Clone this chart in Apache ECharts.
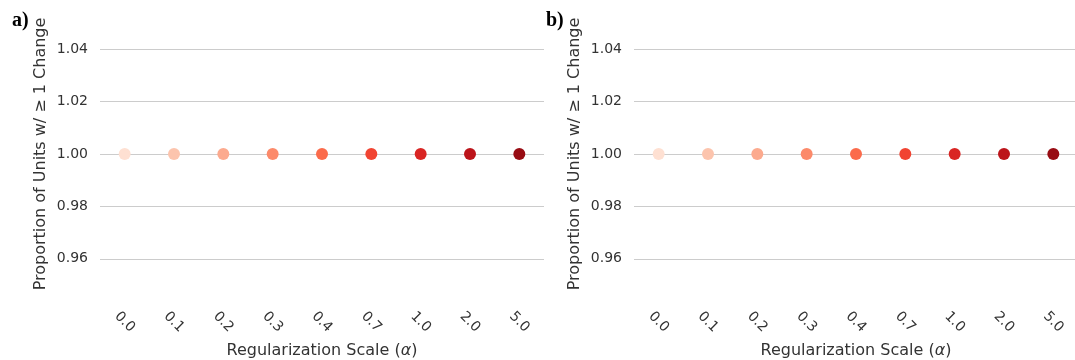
<!DOCTYPE html>
<html lang="en">

<head>
    <meta charset="UTF-8">
    <title>Regularization scale</title>
    <script src="https://cdn.jsdelivr.net/npm/echarts@6/dist/echarts.min.js"></script>
    <style>
        html, body { margin: 0; padding: 0; background: #fff; }
    </style>
</head>

<body>
    <div id="main" style="width: 1075px; height: 360px;"></div>
    <script>
        // data
        var alphas = ['0.0', '0.1', '0.2', '0.3', '0.4', '0.7', '1.0', '2.0', '5.0'];
        var propA = [1.0, 1.0, 1.0, 1.0, 1.0, 1.0, 1.0, 1.0, 1.0];
        var propB = [1.0, 1.0, 1.0, 1.0, 1.0, 1.0, 1.0, 1.0, 1.0];
        var panelNames = ['a)', 'b)'];

        var reds = ['#fee0d2', '#fcc4ad', '#fcaa8e', '#fc8a6a', '#fb6b4b', '#f14432', '#d92523', '#bc141a', '#980c13'];

        var chart = echarts.init(document.getElementById('main'));
        var font = 'DejaVu Sans';

        function xAxis(i) {
            return {
                type: 'category',
                gridIndex: i,
                data: alphas,
                boundaryGap: true,
                axisLine: { show: false },
                axisTick: { show: false },
                splitLine: { show: false },
                axisLabel: {
                    rotate: -45,
                    align: 'center',
                    verticalAlign: 'middle',
                    margin: 37,
                    color: '#333',
                    fontSize: 14,
                    fontFamily: font
                },
                name: 'Regularization Scale ({a|\u03b1})',
                nameLocation: 'middle',
                nameGap: 58,
                nameTextStyle: {
                    color: '#333', fontSize: 16, fontFamily: font,
                    rich: { a: { fontStyle: 'italic', color: '#333', fontSize: 16, fontFamily: font } }
                }
            };
        }

        function yAxis(i) {
            return {
                type: 'value',
                gridIndex: i,
                min: 0.95,
                max: 1.05,
                splitNumber: 5,
                axisLine: { show: false },
                axisTick: { show: false },
                splitLine: {
                    show: true,
                    lineStyle: { color: '#cccccc', width: 1 },
                    showMinLine: false,
                    showMaxLine: false
                },
                axisLabel: {
                    margin: 12,
                    color: '#333',
                    fontSize: 14,
                    fontFamily: font,
                    showMinLabel: false,
                    showMaxLabel: false,
                    formatter: function (v) { return v.toFixed(2); }
                },
                name: 'Proportion of Units w/ \u2265 1 Change',
                nameLocation: 'middle',
                nameGap: 51,
                nameTextStyle: { color: '#333', fontSize: 16, fontFamily: font }
            };
        }

        function points(vals) {
            return vals.map(function (v, j) {
                return { value: v, itemStyle: { color: reds[j], opacity: 1 } };
            });
        }

        var titleStyle = { fontFamily: 'Liberation Serif', fontWeight: 'bold', fontSize: 20, color: '#000' };

        var option = {
            animation: false,
            title: [
                { text: panelNames[0], left: 7, top: 6, textStyle: titleStyle },
                { text: panelNames[1], left: 541, top: 6, textStyle: titleStyle }
            ],
            grid: [
                { left: 100, top: 23, width: 444, height: 262, containLabel: false, outerBoundsMode: 'none' },
                { left: 634, top: 23, width: 444, height: 262, containLabel: false, outerBoundsMode: 'none' }
            ],
            xAxis: [xAxis(0), xAxis(1)],
            yAxis: [yAxis(0), yAxis(1)],
            series: [
                { type: 'scatter', xAxisIndex: 0, yAxisIndex: 0, symbol: 'circle', symbolSize: 12, data: points(propA) },
                { type: 'scatter', xAxisIndex: 1, yAxisIndex: 1, symbol: 'circle', symbolSize: 12, data: points(propB) }
            ]
        };

        chart.setOption(option);
    </script>
</body>

</html>
